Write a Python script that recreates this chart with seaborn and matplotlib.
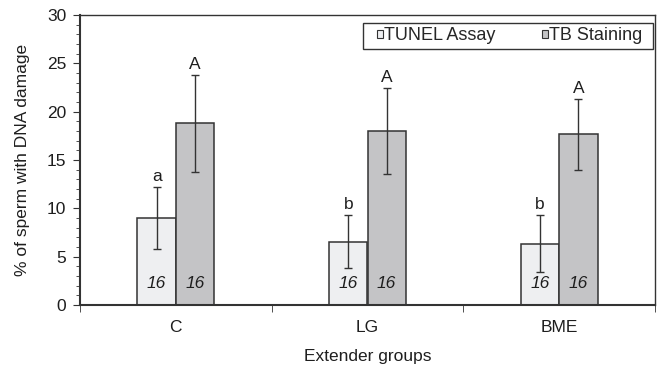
import matplotlib
matplotlib.use("Agg")
import matplotlib.pyplot as plt
import seaborn as sns
import pandas as pd
import numpy as np
from matplotlib.ticker import MultipleLocator, FixedLocator
from matplotlib.patches import Patch, Rectangle

groups = ["C", "LG", "BME"]
series = ["TUNEL Assay", "TB Staining"]
tunel_vals = [9.0, 6.55, 6.35]
tunel_err = [3.2, 2.75, 2.95]
tb_vals = [18.8, 18.0, 17.65]
tb_err = [5.0, 4.4, 3.65]
tunel_letters = ["a", "b", "b"]
tb_letters = ["A", "A", "A"]
n_labels = ["16", "16", "16"]

sns.set_style("white")
plt.rcParams['font.family'] = ['Liberation Sans', 'DejaVu Sans']

df = pd.DataFrame({
    "group": groups * 2,
    "series": [series[0]] * 3 + [series[1]] * 3,
    "value": tunel_vals + tb_vals,
})

colors = ["#eeeff1", "#c4c4c6"]
edge = "#333333"
tc = "#1e1e1e"
fs = 12.5

fig = plt.figure(figsize=(6.6, 3.67), dpi=100)
ax = fig.add_axes([80/660, 1 - 305/367, 575/660, 290/367])

sns.barplot(data=df, x="group", y="value", hue="series", order=groups,
            hue_order=series, palette=colors, width=0.4, edgecolor=edge,
            linewidth=1.1, errorbar=None, legend=False, ax=ax)

errs = [tunel_err, tb_err]
vals = [tunel_vals, tb_vals]
letters = [tunel_letters, tb_letters]
bar_containers = list(ax.containers)
for si, cont in enumerate(bar_containers):
    for gi, patch in enumerate(cont.patches):
        xc = patch.get_x() + patch.get_width() / 2
        v = vals[si][gi]
        e = errs[si][gi]
        ax.errorbar(xc, v, yerr=e, fmt="none", ecolor=edge, elinewidth=1.0,
                    capsize=3, capthick=1.0)
        ax.text(xc, v + e + 0.35, letters[si][gi], ha="center", va="bottom",
                fontsize=fs, color=tc)
        ax.text(xc, 2.2, n_labels[gi], ha="center", va="center",
                fontsize=fs, style="italic", color=tc)

ax.set_ylim(0, 30)
ax.set_xlim(-0.5, 2.5)
ax.yaxis.set_major_locator(MultipleLocator(5))
ax.yaxis.set_minor_locator(MultipleLocator(1))
ax.xaxis.set_major_locator(FixedLocator([0, 1, 2]))
ax.xaxis.set_minor_locator(FixedLocator([-0.5, 0.5, 1.5, 2.5]))
ax.tick_params(axis="x", which="major", length=0, labelsize=fs, pad=11, colors=tc)
ax.tick_params(axis="x", which="minor", length=5, direction="out", color=edge, bottom=True)
ax.tick_params(axis="y", which="major", length=5, direction="out", labelsize=fs,
               color=edge, left=True, labelcolor=tc, pad=5)
ax.tick_params(axis="y", which="minor", length=3, direction="out", color=edge, left=True)
for s in ax.spines.values():
    s.set_color(edge)
    s.set_linewidth(1.0)
ax.spines["bottom"].set_linewidth(1.5)
ax.spines["left"].set_linewidth(1.5)

ax.set_ylabel("% of sperm with DNA damage", fontsize=fs, color=tc, labelpad=12)
ax.set_xlabel("Extender groups", fontsize=fs, color=tc)
ax.xaxis.set_label_coords(0.5, -0.15)

handles = [Patch(facecolor=c, edgecolor=edge, linewidth=0.8) for c in colors]
leg = ax.legend(handles, series, loc="center left", ncol=2, frameon=False,
                fontsize=13, handlelength=0.33, handleheight=0.33,
                handletextpad=0.05, columnspacing=2.6, borderaxespad=0,
                borderpad=0, bbox_to_anchor=(0.516, 0.928))
ax.add_patch(Rectangle((0.492, 0.883), 0.9965 - 0.492, 0.972 - 0.883,
                       transform=ax.transAxes, facecolor="white",
                       edgecolor=edge, linewidth=1.0, zorder=4))
leg.set_zorder(5)

fig.savefig("out.png", dpi=100)
